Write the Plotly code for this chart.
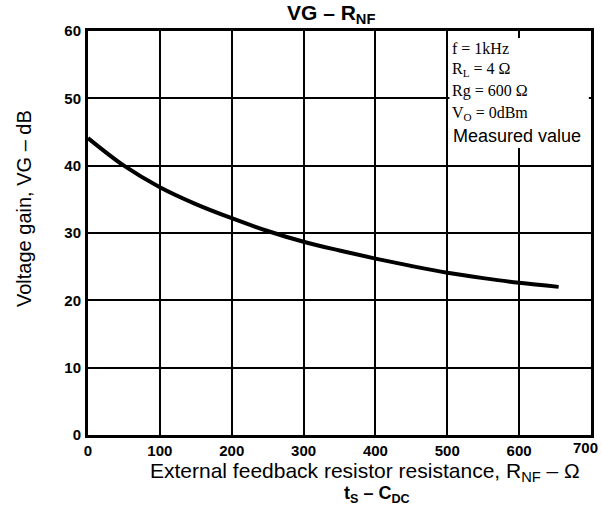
import plotly.graph_objects as go

rnf = [0, 50, 100, 150, 200, 250, 300, 350, 400, 450, 500, 550, 600, 655]
vg = [44.1, 40.0, 36.8, 34.3, 32.2, 30.3, 28.7, 27.4, 26.2, 25.1, 24.1, 23.3, 22.6, 22.0]

x_ticks = [0, 100, 200, 300, 400, 500, 600, 700]
y_ticks = [0, 10, 20, 30, 40, 50, 60]

cond_lines = ["f = 1kHz", "R<sub>L</sub> = 4 Ω", "Rg = 600 Ω", "V<sub>O</sub> = 0dBm"]

W, H = 602, 508
L, R, T, B = 88, 11, 31, 73

fig = go.Figure()
fig.add_trace(go.Scatter(x=rnf, y=vg, mode="lines", line=dict(color="black", width=4, shape="spline"),
                         showlegend=False, hoverinfo="skip"))

tickfont = dict(family="Liberation Sans", size=15, color="black", weight="bold")
fig.update_layout(
    width=W, height=H, autosize=False,
    margin=dict(l=L, r=R, t=T, b=B, autoexpand=False),
    paper_bgcolor="white", plot_bgcolor="white",
    xaxis=dict(range=[0, 700], tickvals=x_ticks, ticktext=[str(v) for v in x_ticks[:-1]] + [""],
               showgrid=True, gridcolor="black", gridwidth=2, zeroline=False, automargin=False,
               showline=True, linecolor="black", linewidth=3, mirror=True, ticklabeloverflow="allow",
               ticks="", tickfont=tickfont, ticklabelstandoff=0),
    yaxis=dict(range=[0, 60], tickvals=y_ticks, ticktext=[str(v) for v in y_ticks],
               showgrid=True, gridcolor="black", gridwidth=2, zeroline=False, automargin=False,
               showline=True, linecolor="black", linewidth=3, mirror=True, ticklabeloverflow="allow",
               ticks="", tickfont=tickfont, ticklabelstandoff=1),
)

def py(pix):
    return (H - B - pix) / (H - T - B)

def px(pix):
    return (pix - L) / (W - L - R)

# last x tick label, kept inside the page
fig.add_annotation(text=str(x_ticks[-1]), xref="paper", yref="paper", x=px(600), y=py(437),
                   xanchor="right", yanchor="top", showarrow=False, font=tickfont)

# white box for conditions
fig.add_shape(type="rect", xref="x", yref="paper", x0=503, x1=697, y0=py(148), y1=py(38),
              fillcolor="white", line=dict(width=0), layer="above")

for i, t in enumerate(cond_lines):
    fig.add_annotation(text=t, xref="x", yref="paper", x=504, y=py(48 + 21.7 * i), xanchor="left",
                       yanchor="middle", showarrow=False,
                       font=dict(family="Liberation Serif", size=16, color="black"))
fig.add_annotation(text="Measured value", xref="x", yref="paper", x=505, y=py(136), xanchor="left",
                   yanchor="middle", showarrow=False,
                   font=dict(family="Liberation Sans", size=18, color="black"))

# titles
fig.add_annotation(text="<b>VG – R<sub>NF</sub></b>", xref="paper", yref="paper",
                   x=px(331), y=py(14), xanchor="center", yanchor="middle",
                   showarrow=False, font=dict(family="Liberation Sans", size=21, color="black"))
fig.add_annotation(text="<b>t<sub>S</sub> – C<sub>DC</sub></b>", xref="paper", yref="paper",
                   x=px(377), y=py(495), xanchor="center", yanchor="middle",
                   showarrow=False, font=dict(family="Liberation Sans", size=18, color="black"))
fig.add_annotation(text="External feedback resistor resistance, R<sub>NF</sub> – Ω", xref="paper", yref="paper",
                   x=px(365), y=py(472), xanchor="center", yanchor="middle",
                   showarrow=False, font=dict(family="Liberation Sans", size=21, color="black"))
fig.add_annotation(text="Voltage gain, VG – dB", xref="paper", yref="paper", textangle=-90,
                   x=px(24), y=py(209), xanchor="center", yanchor="middle",
                   showarrow=False, font=dict(family="Liberation Sans", size=20, color="black"))

fig.write_html("out.html", config={"responsive": False, "displayModeBar": False},
               post_script="document.body.style.margin='0';document.body.style.overflow='hidden';")
